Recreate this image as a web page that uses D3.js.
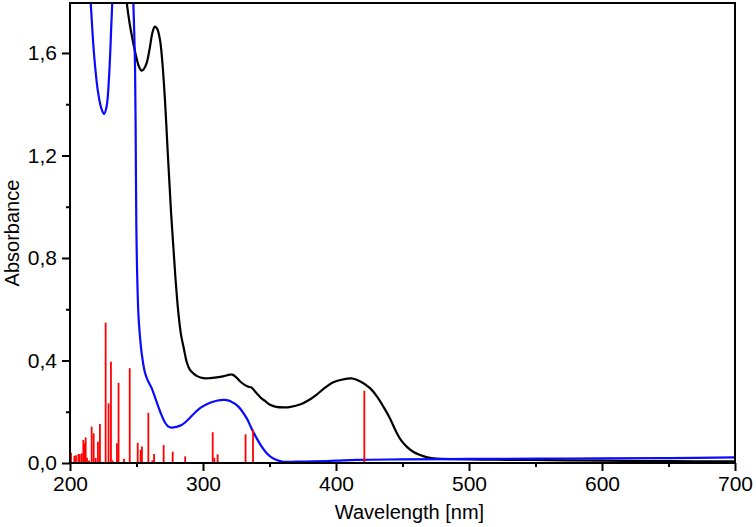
<!DOCTYPE html>
<html>
<head>
<meta charset="utf-8">
<script src="https://cdn.jsdelivr.net/npm/d3@7/dist/d3.min.js"></script>
<style>
  html, body { margin: 0; padding: 0; background: #fff; }
  svg { display: block; }
  text { font-family: "Liberation Sans", Arial, sans-serif; fill: #000; }
</style>
</head>
<body>
<svg id="chart" width="756" height="527"></svg>
<script>
// ---- data ----
const xTicks = [200, 300, 400, 500, 600, 700];
const yTicks = [0, 0.4, 0.8, 1.2, 1.6];
const yTickLabels = ["0,0", "0,4", "0,8", "1,2", "1,6"];

// black spectrum [wavelength nm, absorbance]
const blackWl = [238, 240.5, 242.6, 245, 247.6, 250, 252, 253.9, 255.5, 257.6, 260, 262, 263.8, 265.5, 267.7, 269.5, 271.4, 273.4, 275.2, 276, 277.7, 279.4, 281.5, 283.5, 285.7, 287.7, 290, 292.7, 296, 300.2, 305, 310.3, 315, 320.3, 322, 324, 328, 331.6, 334, 336.6, 339, 341.6, 344, 346.6, 350.4, 355, 360.4, 366, 372.9, 380, 385.5, 392, 398, 405, 411.8, 418, 425.6, 431, 435.6, 440.6, 445.6, 449, 453.1, 458, 463.2, 468, 473.2, 480, 488, 520, 560, 600, 650, 700];
const blackAbs = [2.1, 1.95, 1.8, 1.71, 1.638, 1.58, 1.545, 1.531, 1.537, 1.56, 1.62, 1.68, 1.703, 1.695, 1.65, 1.56, 1.417, 1.22, 1.052, 0.976, 0.844, 0.714, 0.585, 0.5, 0.444, 0.395, 0.365, 0.35, 0.338, 0.331, 0.331, 0.334, 0.338, 0.345, 0.345, 0.339, 0.318, 0.304, 0.298, 0.294, 0.28, 0.265, 0.252, 0.242, 0.227, 0.219, 0.217, 0.219, 0.228, 0.247, 0.267, 0.295, 0.315, 0.326, 0.33, 0.319, 0.292, 0.258, 0.22, 0.174, 0.118, 0.088, 0.064, 0.044, 0.031, 0.023, 0.018, 0.016, 0.015, 0.013, 0.011, 0.009, 0.007, 0.006];

// blue spectrum
const blueWl = [212, 214, 215.5, 218, 221, 223.5, 225.6, 227.5, 229.5, 231, 231.8, 233, 235, 244, 246.5, 247.6, 248.9, 249.6, 250.1, 251.4, 252.5, 253.9, 256.4, 258.5, 261.4, 264, 266.4, 269, 271.4, 274, 276.4, 280, 283.9, 288, 292.7, 298, 305.3, 311, 316.5, 321, 326.6, 332.9, 336.5, 340.4, 344, 347.9, 351.5, 355.4, 360.4, 370, 383, 400, 415.5, 450, 500, 550, 600, 650, 700];
const blueAbs = [2.1, 1.9, 1.8, 1.6, 1.45, 1.385, 1.362, 1.39, 1.52, 1.7, 1.8, 2.0, 2.2, 2.2, 1.95, 1.8, 1.547, 1.104, 0.844, 0.584, 0.5, 0.428, 0.352, 0.322, 0.292, 0.255, 0.22, 0.185, 0.158, 0.142, 0.138, 0.141, 0.148, 0.165, 0.19, 0.215, 0.235, 0.244, 0.246, 0.24, 0.22, 0.174, 0.135, 0.096, 0.065, 0.038, 0.022, 0.012, 0.005, 0.005, 0.006, 0.009, 0.012, 0.014, 0.016, 0.017, 0.018, 0.019, 0.022];

// calculated transitions (red sticks)
const stickWl = [200.8, 203.3, 204.5, 206.3, 207.3, 208.8, 210.0, 210.8, 211.8, 212.8, 214.3, 216.3, 217.8, 219.3, 221.0, 222.5, 226.8, 229.0, 230.8, 232.0, 235.3, 236.5, 240.6, 244.9, 250.9, 253.1, 254.1, 258.9, 261.9, 263.2, 270.4, 277.2, 286.6, 307.3, 308.5, 311.0, 332.0, 337.6, 421.3];
const stickVal = [0.040, 0.028, 0.030, 0.035, 0.034, 0.038, 0.090, 0.077, 0.100, 0.020, 0.010, 0.142, 0.116, 0.020, 0.083, 0.152, 0.548, 0.233, 0.395, 0.010, 0.077, 0.313, 0.017, 0.370, 0.079, 0.051, 0.064, 0.196, 0.010, 0.035, 0.070, 0.044, 0.026, 0.120, 0.020, 0.034, 0.112, 0.129, 0.282];

// ---- layout ----
const svg = d3.select("#chart");
const L = 70, R = 735, T = 3, B = 463;
const x = d3.scaleLinear().domain([200, 700]).range([L, R]);
const y = d3.scaleLinear().domain([0, 1.795]).range([B, T]);

svg.append("defs").append("clipPath").attr("id", "clip")
  .append("rect").attr("x", L).attr("y", T).attr("width", R - L).attr("height", B - T);

const plot = svg.append("g").attr("clip-path", "url(#clip)");

const line = d3.line().x(d => x(d[0])).y(d => y(d[1])).curve(d3.curveCatmullRom.alpha(0.5));
const black = blackWl.map((w, i) => [w, blackAbs[i]]);
const blue = blueWl.map((w, i) => [w, blueAbs[i]]);

plot.append("path").datum(black).attr("d", line)
  .attr("fill", "none").attr("stroke", "#000").attr("stroke-width", 2.2);
plot.append("path").datum(blue).attr("d", line)
  .attr("fill", "none").attr("stroke", "#0a0aff").attr("stroke-width", 2.2);

plot.selectAll("line.stick").data(stickWl.map((w, i) => [w, stickVal[i]]))
  .enter().append("line").attr("class", "stick")
  .attr("x1", d => x(d[0])).attr("x2", d => x(d[0]))
  .attr("y1", y(0)).attr("y2", d => y(d[1]))
  .attr("stroke", "#ff0000").attr("stroke-width", 1.8);

// ---- axes ----
const xAxis = d3.axisBottom(x).tickValues(xTicks).tickSize(8).tickPadding(5).tickFormat(d3.format("d"));
const gx = svg.append("g").attr("transform", `translate(0,${B})`).call(xAxis);
const yAxis = d3.axisLeft(y).tickValues(yTicks).tickSize(8).tickPadding(5)
  .tickFormat((d, i) => yTickLabels[i]);
const gy = svg.append("g").attr("transform", `translate(${L},0)`).call(yAxis);

// minor ticks
const xMinor = d3.axisBottom(x).tickValues(d3.range(250, 700, 100)).tickSize(4).tickFormat("");
svg.append("g").attr("transform", `translate(0,${B})`).call(xMinor).call(g => g.select(".domain").remove())
  .selectAll("line").attr("stroke-width", 2);
const yMinor = d3.axisLeft(y).tickValues([0.2, 0.6, 1.0, 1.4]).tickSize(4).tickFormat("");
svg.append("g").attr("transform", `translate(${L},0)`).call(yMinor).call(g => g.select(".domain").remove())
  .selectAll("line").attr("stroke-width", 2);

[gx, gy].forEach(g => {
  g.select(".domain").remove();
  g.selectAll("line").attr("stroke-width", 2);
  g.selectAll("text").attr("font-size", 21).attr("font-family", "'Liberation Sans', Arial, sans-serif");
});

// frame
svg.append("rect").attr("x", L).attr("y", T).attr("width", R - L).attr("height", B - T)
  .attr("fill", "none").attr("stroke", "#000").attr("stroke-width", 2);

// titles
svg.append("text").attr("x", (L + R) / 2 + 7).attr("y", 519).attr("text-anchor", "middle")
  .attr("font-size", 20).text("Wavelength [nm]");
svg.append("text").attr("transform", `translate(19,${(T + B) / 2}) rotate(-90)`)
  .attr("text-anchor", "middle").attr("font-size", 20).text("Absorbance");
</script>
</body>
</html>
